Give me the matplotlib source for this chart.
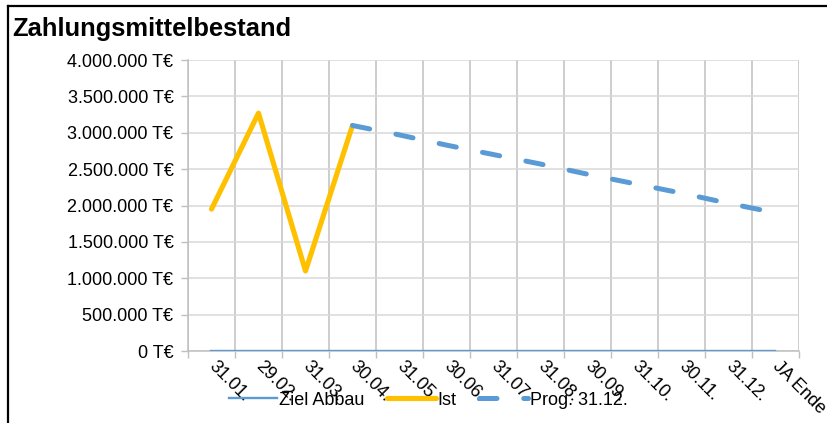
import matplotlib.pyplot as plt
import numpy as np
from matplotlib.lines import Line2D
from matplotlib.ticker import FuncFormatter, MultipleLocator

plt.rcParams['font.family'] = ['Liberation Sans', 'DejaVu Sans']

# Data
labels = ["31.01.", "29.02.", "31.03.", "30.04.", "31.05.", "30.06.", "31.07.",
          "31.08.", "30.09.", "31.10.", "30.11.", "31.12.", "JA Ende"]
ziel_abbau = [0, 0, 0, 0, 0, 0, 0, 0, 0, 0, 0, 0, 0]
ist = [1950000, 3270000, 1100000, 3100000]
prog = [3100000, 2970000, 2830000, 2700000, 2570000, 2430000, 2300000,
        2170000, 2030000, 1900000]

x = np.arange(len(labels))
x_ist = x[:len(ist)]
x_prog = x[len(ist) - 1:]

blue = "#5B9BD5"
gold = "#FFC000"

fig = plt.figure(figsize=(8.28, 4.23), dpi=100)
ax = fig.add_axes([188 / 828, 1 - 351 / 423, (799 - 188) / 828, (351 - 60) / 423])

ax.plot(x, ziel_abbau, color=blue, lw=1.7, label="Ziel Abbau", zorder=3)
ax.plot(x_ist, ist, color=gold, lw=3.7, solid_capstyle="round",
        solid_joinstyle="round", label="Ist", zorder=4)
ax.plot(x_prog, prog, color=blue, lw=3.6, dashes=(3.5, 5.35),
        dash_capstyle="round", label="Prog. 31.12.", zorder=4)

ax.set_xlim(-0.5, len(labels) - 0.5)
ax.set_ylim(0, 4000000)

ax.yaxis.set_major_locator(MultipleLocator(500000))
ax.yaxis.set_major_formatter(FuncFormatter(
    lambda v, p: "{:,.0f}".format(v).replace(",", ".") + " T€"))
ax.tick_params(axis="y", length=5, width=1, color="#BFBFBF", pad=5.5,
               labelsize=13)

ax.set_xticks(x)
ax.set_xticklabels(labels, rotation=-45, rotation_mode="anchor",
                   ha="left", va="center", fontsize=13)
ax.tick_params(axis="x", which="major", length=0, pad=9)
ax.set_xticks(np.arange(-0.5, len(labels)), minor=True)
ax.tick_params(axis="x", which="minor", length=5, width=1, color="#BFBFBF")

ax.grid(axis="y", which="major", color="#D9D9D9", lw=1.1)
ax.grid(axis="x", which="minor", color="#C0C0C0", lw=1.1)
ax.set_axisbelow(True)

for side in ["top", "right"]:
    ax.spines[side].set_visible(False)
for side in ["left", "bottom"]:
    ax.spines[side].set_color("#BFBFBF")
    ax.spines[side].set_linewidth(1.1)

fig.text(12 / 828, 1 - 36 / 423, "Zahlungsmittelbestand", fontsize=18.4,
         fontweight="bold", ha="left", va="baseline")

leg = fig.legend(loc="center", bbox_to_anchor=(428 / 828, 1 - 400 / 423),
                 ncol=3, frameon=False, fontsize=13, handlelength=2.7,
                 handletextpad=0.1, columnspacing=1.25)

# chart border
fig.add_artist(Line2D([8 / 828, 1], [1 - 6 / 423, 1 - 6 / 423], color="black", lw=1.6))
fig.add_artist(Line2D([8 / 828, 8 / 828], [0, 1 - 6 / 423], color="black", lw=1.6))

fig.savefig("out.png", dpi=100)
